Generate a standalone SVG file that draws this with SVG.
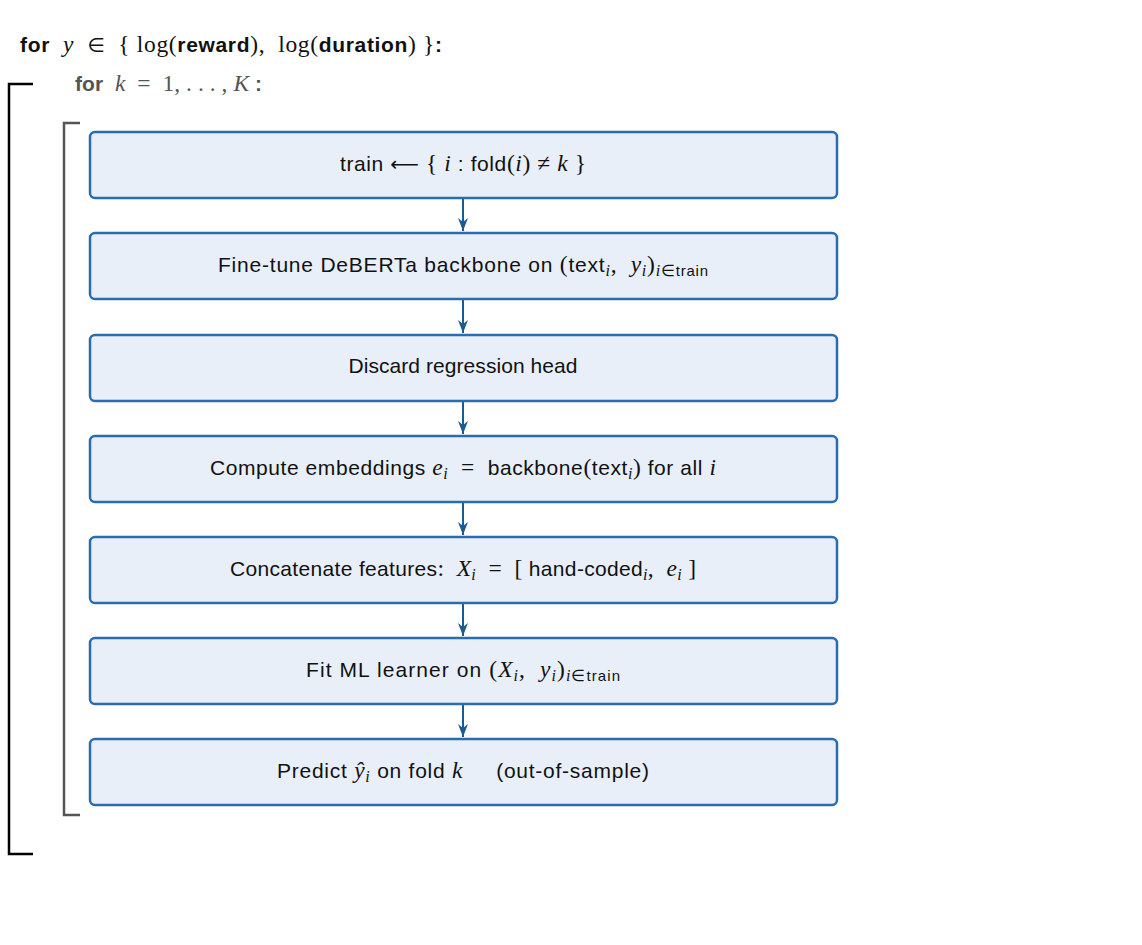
<svg xmlns="http://www.w3.org/2000/svg" width="1142" height="945" viewBox="0 0 1142 945">
<style>
text{white-space:pre}
.box{fill:#e8eff8;stroke:#2b6cb0;stroke-width:2.5}
.t{font-family:"Liberation Sans",Arial,sans-serif;font-size:21px;fill:#111;text-anchor:middle}
.h{font-family:"Liberation Sans",Arial,sans-serif;font-size:21px}
.m{font-family:"Liberation Serif","Times New Roman",serif;font-size:23.5px;font-style:normal}
.mi{font-family:"Liberation Serif","Times New Roman",serif;font-size:23.5px;font-style:italic}
.sym{font-family:"DejaVu Sans",sans-serif;font-size:20px;font-style:normal}
.s{font-size:16px}
.ss{font-family:"Liberation Sans",Arial,sans-serif;font-size:15px;font-style:normal}
.b{font-weight:bold}
.conn{stroke:#1c5a92;stroke-width:2;fill:none}
</style>
<defs>
<marker id="ah" viewBox="0 0 13 10" refX="13" refY="5" markerWidth="13" markerHeight="10" markerUnits="userSpaceOnUse" orient="auto">
<path d="M0,0 L13,5 L0,10 L4,5 Z" fill="#1c5a92"/>
</marker>
</defs>
<rect width="1142" height="945" fill="#fff"/>
<g id="header">
<text class="h" x="20" y="52" fill="#111" textLength="422" lengthAdjust="spacing" xml:space="preserve"><tspan class="b">for</tspan><tspan class="mi">  y</tspan><tspan class="m">  </tspan><tspan class="sym">∈</tspan><tspan class="m">  { log(</tspan><tspan class="b">reward</tspan><tspan class="m">),  log(</tspan><tspan class="b">duration</tspan><tspan class="m">) }</tspan><tspan class="b">:</tspan></text>
<text class="h" x="75" y="91" fill="#555" textLength="187" lengthAdjust="spacing" xml:space="preserve"><tspan class="b">for</tspan><tspan class="mi">  k</tspan><tspan class="m">  =  1, . . . , </tspan><tspan class="mi">K</tspan><tspan class="b"> :</tspan></text>
</g>
<g id="brackets" fill="none">
<path d="M33,84 H9 V854 H33" stroke="#000" stroke-width="2.5"/>
<path d="M80,123 H64 V815 H80" stroke="#555" stroke-width="2.5"/>
</g>
<g id="connectors">
<line class="conn" x1="463" y1="199" x2="463" y2="231" marker-end="url(#ah)"/>
<line class="conn" x1="463" y1="300" x2="463" y2="333" marker-end="url(#ah)"/>
<line class="conn" x1="463" y1="402" x2="463" y2="434" marker-end="url(#ah)"/>
<line class="conn" x1="463" y1="503" x2="463" y2="535" marker-end="url(#ah)"/>
<line class="conn" x1="463" y1="604" x2="463" y2="636" marker-end="url(#ah)"/>
<line class="conn" x1="463" y1="705" x2="463" y2="737" marker-end="url(#ah)"/>
</g>
<g id="n1">
<rect class="box" x="90" y="132" width="747" height="66" rx="5"/>
<text class="t" x="463" y="171" textLength="246" lengthAdjust="spacing" xml:space="preserve">train <tspan class="sym">⟵</tspan><tspan class="m"> { </tspan><tspan class="mi">i</tspan> : fold<tspan class="m">(</tspan><tspan class="mi">i</tspan><tspan class="m">) ≠ </tspan><tspan class="mi">k</tspan><tspan class="m"> }</tspan></text>
</g>
<g id="n2">
<rect class="box" x="90" y="233" width="747" height="66" rx="5"/>
<text class="t" x="463" y="272" textLength="490" lengthAdjust="spacing" xml:space="preserve">Fine-tune DeBERTa backbone on <tspan class="m">(</tspan>text<tspan class="mi s" dy="4">i</tspan><tspan class="m" dy="-4">,  </tspan><tspan class="mi">y</tspan><tspan class="mi s" dy="4">i</tspan><tspan class="m" dy="-4">)</tspan><tspan class="mi s" dy="4">i</tspan><tspan class="m s">∈</tspan><tspan class="ss">train</tspan></text>
</g>
<g id="n3">
<rect class="box" x="90" y="335" width="747" height="66" rx="5"/>
<text class="t" x="463" y="373" textLength="229" lengthAdjust="spacing">Discard regression head</text>
</g>
<g id="n4">
<rect class="box" x="90" y="436" width="747" height="66" rx="5"/>
<text class="t" x="463" y="475" textLength="506" lengthAdjust="spacing" xml:space="preserve">Compute embeddings <tspan class="mi">e</tspan><tspan class="mi s" dy="4">i</tspan><tspan class="m" dy="-4">  =  </tspan>backbone<tspan class="m">(</tspan>text<tspan class="mi s" dy="4">i</tspan><tspan class="m" dy="-4">)</tspan> for all <tspan class="mi">i</tspan></text>
</g>
<g id="n5">
<rect class="box" x="90" y="537" width="747" height="66" rx="5"/>
<text class="t" x="463" y="576" textLength="466" lengthAdjust="spacing" xml:space="preserve">Concatenate features<tspan class="m">:  </tspan><tspan class="mi">X</tspan><tspan class="mi s" dy="4">i</tspan><tspan class="m" dy="-4">  =  [ </tspan>hand-coded<tspan class="mi s" dy="4">i</tspan><tspan class="m" dy="-4">,  </tspan><tspan class="mi">e</tspan><tspan class="mi s" dy="4">i</tspan><tspan class="m" dy="-4"> ]</tspan></text>
</g>
<g id="n6">
<rect class="box" x="90" y="638" width="747" height="66" rx="5"/>
<text class="t" x="463" y="677" textLength="314" lengthAdjust="spacing" xml:space="preserve">Fit ML learner on <tspan class="m">(</tspan><tspan class="mi">X</tspan><tspan class="mi s" dy="4">i</tspan><tspan class="m" dy="-4">,  </tspan><tspan class="mi">y</tspan><tspan class="mi s" dy="4">i</tspan><tspan class="m" dy="-4">)</tspan><tspan class="mi s" dy="4">i</tspan><tspan class="m s">∈</tspan><tspan class="ss">train</tspan></text>
</g>
<g id="n7">
<rect class="box" x="90" y="739" width="747" height="66" rx="5"/>
<text class="t" x="463" y="778" textLength="372" lengthAdjust="spacing" xml:space="preserve">Predict <tspan class="mi">ŷ</tspan><tspan class="mi s" dy="4">i</tspan><tspan dy="-4"> on fold </tspan><tspan class="mi">k</tspan><tspan>     (out-of-sample)</tspan></text>
</g>
</svg>
